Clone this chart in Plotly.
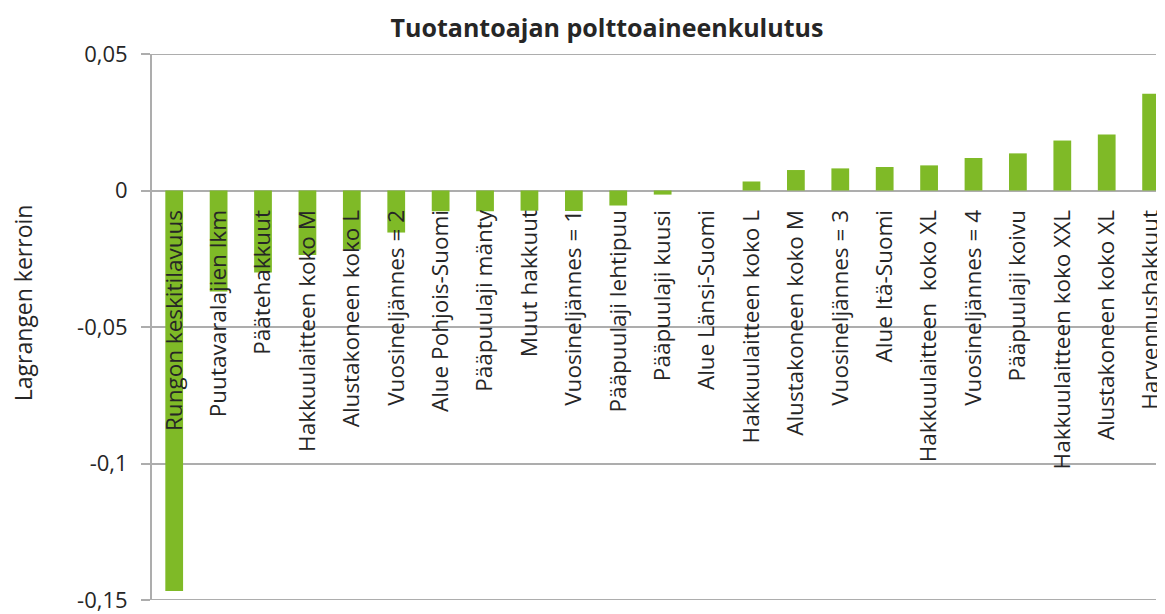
import plotly.graph_objects as go

categories = [
    "Rungon keskitilavuus", "Puutavaralajien lkm", "Päätehakkuut", "Hakkuulaitteen koko M",
    "Alustakoneen koko L", "Vuosineljännes = 2", "Alue Pohjois-Suomi", "Pääpuulaji mänty",
    "Muut hakkuut", "Vuosineljännes = 1", "Pääpuulaji lehtipuu", "Pääpuulaji kuusi",
    "Alue Länsi-Suomi", "Hakkuulaitteen koko L", "Alustakoneen koko M", "Vuosineljännes = 3",
    "Alue Itä-Suomi", "Hakkuulaitteen  koko XL", "Vuosineljännes = 4", "Pääpuulaji koivu",
    "Hakkuulaitteen koko XXL", "Alustakoneen koko XL", "Harvennushakkuut",
]
values = [
    -0.1467, -0.0370, -0.0300, -0.0236, -0.0216, -0.0154, -0.0076, -0.0076,
    -0.0074, -0.0075, -0.0055, -0.0015, 0.0, 0.0033, 0.0075, 0.0081,
    0.0086, 0.0092, 0.0119, 0.0136, 0.0183, 0.0205, 0.0354,
]
y_tickvals = [-0.15, -0.1, -0.05, 0, 0.05]
y_ticktext = ["-0,15", "-0,1", "-0,05", "0", "0,05"]

GREEN = "#7FBA27"
GRID = "#ADADAD"
TXT = "#262626"
FONT = "Open Sans"

# page body has an 8px offset; layout values compensate for it
L, T, W, H = 144, 46, 1165, 614
B = H - 596
R = 8

fig = go.Figure(go.Bar(x=categories, y=values, marker=dict(color=GREEN, line=dict(width=0)),
                       width=0.4, hoverinfo="x+y"))

fig.update_layout(
    width=W, height=H,
    margin=dict(l=L, r=R, t=T, b=B),
    paper_bgcolor="white", plot_bgcolor="white",
    font=dict(family=FONT, color=TXT, size=20),
    showlegend=False,
    title=dict(text="<b>Tuotantoajan polttoaineenkulutus</b>", x=599/W, xref="container",
               xanchor="center", y=1-20/H, yref="container", yanchor="middle",
               font=dict(family=FONT, size=25, color=TXT)),
    xaxis=dict(
        type="category", range=[-0.5, 22.11],
        anchor="free", position=0.75,
        showline=False, showgrid=False, zeroline=False, ticks="",
        tickangle=-90, tickfont=dict(family=FONT, size=22.5, color=TXT),
        ticklabelstandoff=14, layer="above traces",
    ),
    yaxis=dict(
        range=[-0.15, 0.05], tickvals=y_tickvals, ticktext=y_ticktext,
        showgrid=True, gridcolor=GRID, gridwidth=1.5,
        zeroline=True, zerolinecolor=GRID, zerolinewidth=2,
        showline=True, linecolor=GRID, linewidth=2,
        ticks="outside", ticklen=9, tickcolor=GRID, tickwidth=1.5,
        ticklabelstandoff=9,
        tickfont=dict(family=FONT, size=22, color=TXT),
    ),
    annotations=[
        dict(text="Lagrangen kerroin", xref="paper", yref="paper", x=0, xshift=-(L - 15),
             y=(596 - 297) / (596 - T), textangle=-90, showarrow=False,
             xanchor="center", yanchor="middle", font=dict(family=FONT, size=23, color=TXT)),
    ],
    shapes=[
        dict(type="line", xref="paper", yref="y", x0=0, x1=1, y0=-0.15, y1=-0.15,
             line=dict(color=GRID, width=2), layer="below"),
        dict(type="line", xref="paper", yref="y", x0=0, x1=1, y0=0.05, y1=0.05,
             line=dict(color=GRID, width=2), layer="below"),
    ],
)

fig.write_html("out.html")
